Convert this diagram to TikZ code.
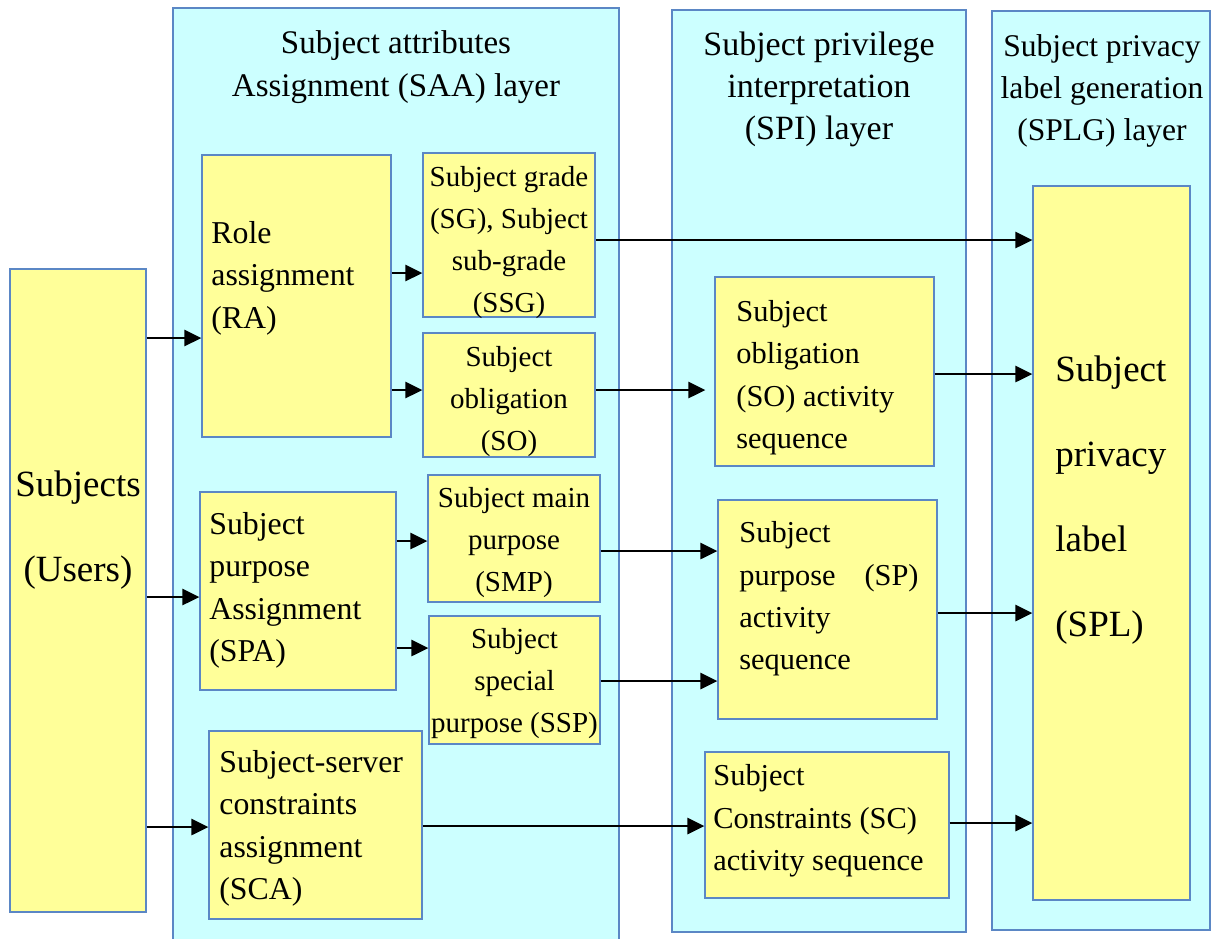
\documentclass[tikz,border=0pt]{standalone}
\usepackage{fontspec}
\setmainfont{Liberation Serif}
\usetikzlibrary{arrows.meta,fit}
\definecolor{layercyan}{HTML}{CCFFFF}
\definecolor{boxyellow}{HTML}{FFFF99}
\definecolor{edgeblue}{HTML}{5B87C5}
\begin{document}
\begin{tikzpicture}[x=0.5pt,y=-0.5pt,
  layer/.style={draw=edgeblue, fill=layercyan, line width=0.6pt, inner sep=0pt},
  ybox/.style={draw=edgeblue, fill=boxyellow, line width=0.6pt, inner sep=0pt},
  arr/.style={-{Triangle[length=8.5pt,width=8pt]}, line width=1.4pt, black},
  txt/.style={inner sep=0pt, text=black, yshift=-1.5pt},
  smallfont/.style={font=\fontsize{14.5}{21}\selectfont},
  midfont/.style={font=\fontsize{15.9}{21.2}\selectfont},
  spifont/.style={font=\fontsize{15.2}{21.2}\selectfont},
  bigfont/.style={font=\fontsize{18.5}{42.5}\selectfont},
]
\useasboundingbox (0,0) rectangle (1218,938);
\clip (0,0) rectangle (1218,938);

% layers
\node[layer, fit={(173,8)(619,945)}] (saa) {};
\node[layer, fit={(672,10)(966,932)}] (spi) {};
\node[layer, fit={(992,11)(1210,930)}] (splg) {};

\node[txt, align=center, font=\fontsize{16.5}{21.5}\selectfont, yshift=-0.5pt] (saatitle) at (396,63.5)
  {Subject attributes\\Assignment (SAA) layer};
\node[txt, align=center, font=\fontsize{17}{21}\selectfont] (spititle) at (819,86)
  {Subject privilege\\interpretation\\(SPI) layer};
\node[txt, align=center, font=\fontsize{15.8}{21}\selectfont] (splgtitle) at (1102,88)
  {Subject privacy\\label generation\\(SPLG) layer};

% subjects
\node[ybox, fit={(10,269)(146,912)}] (subj) {};
\node[txt, bigfont, align=center] (subjtext) at (78,527.5) {Subjects\\(Users)};

% SAA layer boxes
\node[ybox, fit={(202,155)(391,437)}] (ra) {};
\node[txt, midfont, align=left, anchor=west] (ratext) at (211,275) {Role\\assignment\\(RA)};

\node[ybox, fit={(423,153)(595,317)}] (sg) {};
\node[txt, smallfont, align=center] (sgtext) at (509,239.5) {Subject grade\\(SG), Subject\\sub-grade\\(SSG)};

\node[ybox, fit={(423,333)(595,457)}] (so) {};
\node[txt, smallfont, align=center] (sotext) at (509,399) {Subject\\obligation\\(SO)};

\node[ybox, fit={(200,492)(396,690)}] (spa) {};
\node[txt, midfont, align=left, anchor=west] (spatext) at (209,587.5) {Subject\\purpose\\Assignment\\(SPA)};

\node[ybox, fit={(428,475)(600,602)}] (smp) {};
\node[txt, smallfont, align=center] (smptext) at (514,540) {Subject main\\purpose\\(SMP)};

\node[ybox, fit={(429,616)(600,744)}] (ssp) {};
\node[txt, smallfont, align=center] (ssptext) at (514.5,680.5) {Subject\\special\\purpose (SSP)};

\node[ybox, fit={(209,731)(422,919)}] (sca) {};
\node[txt, midfont, align=left, anchor=west] (scatext) at (219,825.5) {Subject-server\\constraints\\assignment\\(SCA)};

% SPI layer boxes
\node[ybox, fit={(715,277)(934,466)}] (soas) {};
\node[txt, spifont, align=left, anchor=west] (soastext) at (736,374.5) {Subject\\obligation\\(SO) activity\\sequence};

\node[ybox, fit={(718,500)(937,719)}] (spas) {};
\node[txt, spifont, align=left, anchor=west] (spastext) at (739,596) {Subject\\purpose\hspace{0.95em}(SP)\\activity\\sequence};

\node[ybox, fit={(705,752)(949,898)}] (scas) {};
\node[txt, spifont, align=left, anchor=west] (scastext) at (713,818) {Subject\\Constraints (SC)\\activity sequence};

% SPLG layer box
\node[ybox, fit={(1033,186)(1190,900)}] (spl) {};
\node[txt, bigfont, align=left, anchor=west] (spltext) at (1055,497.5) {Subject\\privacy\\label\\(SPL)};

% connectors
\draw[arr] (subj.east |- 0,338) -- (ra.west |- 0,338);
\draw[arr] (subj.east |- 0,597) -- (spa.west |- 0,597);
\draw[arr] (subj.east |- 0,827) -- (sca.west |- 0,827);

\draw[arr] (ra.east |- 0,273) -- (sg.west |- 0,273);
\draw[arr] (ra.east |- 0,390) -- (so.west |- 0,390);
\draw[arr] (sg.east |- 0,240) -- (spl.west |- 0,240);
\draw[arr, shorten >=4.5pt] (so.east |- 0,390) -- (soas.west |- 0,390);
\draw[arr] (soas.east |- 0,374) -- (spl.west |- 0,374);

\draw[arr] (spa.east |- 0,541) -- (smp.west |- 0,541);
\draw[arr] (spa.east |- 0,648) -- (ssp.west |- 0,648);
\draw[arr] (smp.east |- 0,551) -- (spas.west |- 0,551);
\draw[arr] (ssp.east |- 0,681) -- (spas.west |- 0,681);
\draw[arr] (spas.east |- 0,613) -- (spl.west |- 0,613);

\draw[arr] (sca.east |- 0,826) -- (scas.west |- 0,826);
\draw[arr] (scas.east |- 0,823) -- (spl.west |- 0,823);
\end{tikzpicture}
\end{document}
